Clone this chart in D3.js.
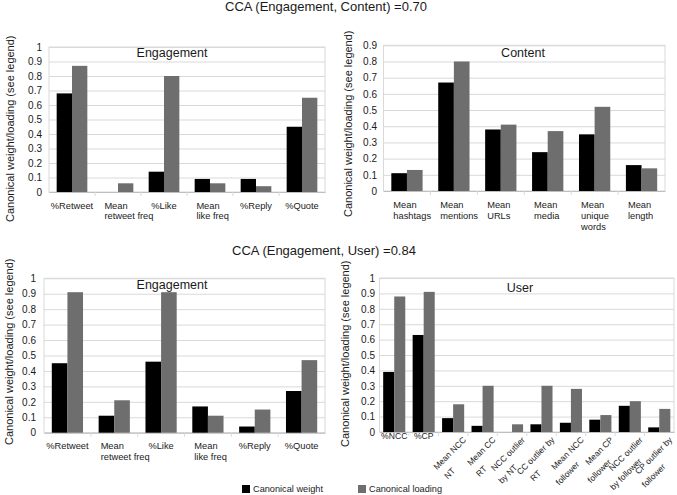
<!DOCTYPE html>
<html>
<head>
<meta charset="utf-8">
<script src="https://cdn.jsdelivr.net/npm/d3@7"></script>
<style>
  body { margin: 0; background: #fff; }
  svg { display: block; font-family: "Liberation Sans", Arial, sans-serif; }
</style>
</head>
<body>
<svg id="chart" width="677" height="495"></svg>
<script>
// ---------------- DATA ----------------
const titleTop = "CCA (Engagement, Content) =0.70";
const titleBottom = "CCA (Engagement, User) =0.84";
const yAxisTitle = "Canonical weight/loading (see legend)";
const seriesNames = ["Canonical weight", "Canonical loading"];

const engagementCats = ["%Retweet", "Mean\nretweet freq", "%Like", "Mean\nlike freq", "%Reply", "%Quote"];
const contentCats = ["Mean\nhashtags", "Mean\nmentions", "Mean\nURLs", "Mean\nmedia", "Mean\nunique\nwords", "Mean\nlength"];
const userCats = ["%NCC", "%CP", "Mean NCC\nNT", "Mean CC\nRT", "NCC outlier\nby NT", "CC outlier by\nRT",
                  "Mean NCC\nfollower", "Mean CP\nfollower", "NCC outlier\nby follower", "CP outlier by\nfollower"];

// Engagement (vs Content)
const engC_weight  = [0.68, 0.00, 0.14, 0.09, 0.09, 0.45];
const engC_loading = [0.87, 0.06, 0.80, 0.06, 0.04, 0.65];
// Content
const content_weight  = [0.11, 0.67, 0.38, 0.24, 0.35, 0.16];
const content_loading = [0.13, 0.80, 0.41, 0.37, 0.52, 0.14];
// Engagement (vs User)
const engU_weight  = [0.45, 0.11, 0.46, 0.17, 0.04, 0.27];
const engU_loading = [0.91, 0.21, 0.91, 0.11, 0.15, 0.47];
// User
const user_weight  = [0.39, 0.63, 0.09, 0.04, 0.00, 0.05, 0.06, 0.08, 0.17, 0.03];
const user_loading = [0.88, 0.91, 0.18, 0.30, 0.05, 0.30, 0.28, 0.11, 0.20, 0.15];

const ticksTo1  = [0, 0.1, 0.2, 0.3, 0.4, 0.5, 0.6, 0.7, 0.8, 0.9, 1];
const ticksTo09 = [0, 0.1, 0.2, 0.3, 0.4, 0.5, 0.6, 0.7, 0.8, 0.9];

// ---------------- STYLE ----------------
const colors = { weight: "#000000", loading: "#6e6e6e" };
const gridColor = "#d9d9d9";
const textColor = "#1a1a1a";

const svg = d3.select("#chart");
svg.append("rect").attr("width", 677).attr("height", 495).attr("fill", "#fff");

// main titles
svg.append("text").attr("x", 326).attr("y", 11).attr("text-anchor", "middle")
  .attr("font-size", 13).attr("fill", textColor).text(titleTop);
svg.append("text").attr("x", 324).attr("y", 255).attr("text-anchor", "middle")
  .attr("font-size", 13).attr("fill", textColor).text(titleBottom);

function drawLines(parent, str, fontSize) {
  const lines = str.split("\n");
  const t = parent.append("text").attr("font-size", fontSize).attr("fill", textColor);
  const spans = lines.map(l => t.append("tspan").text(l));
  const widths = spans.map(s => s.node().getComputedTextLength());
  return { t, spans, widths, maxW: d3.max(widths) };
}

function drawPanel(cfg) {
  const g = svg.append("g");
  const x = d3.scaleBand().domain(cfg.cats).range([cfg.x0, cfg.x1]).paddingInner(0).paddingOuter(0);
  const bw = x.bandwidth();
  const pw = bw * cfg.pair;
  const xs = d3.scaleBand().domain(["weight", "loading"]).range([(bw - pw) / 2, (bw + pw) / 2]);
  const y = d3.scaleLinear().domain([0, cfg.max]).range([cfg.yBot, cfg.yTop]);

  // gridlines
  g.append("g").attr("transform", `translate(${cfg.x0},0)`)
    .call(d3.axisLeft(y).tickValues(cfg.ticks).tickSize(-(cfg.x1 - cfg.x0)).tickFormat(""))
    .call(s => s.select(".domain").remove())
    .call(s => s.selectAll("line").attr("stroke", gridColor).attr("stroke-width", 1));

  // plot border
  g.append("rect").attr("x", cfg.x0).attr("y", y(cfg.max)).attr("width", cfg.x1 - cfg.x0)
    .attr("height", y(0) - y(cfg.max)).attr("fill", "none").attr("stroke", gridColor);

  // y tick labels
  g.append("g").attr("transform", `translate(${cfg.tickRight},0)`)
    .call(d3.axisLeft(y).tickValues(cfg.ticks).tickSize(0).tickPadding(0).tickFormat(d3.format("~g")))
    .call(s => s.select(".domain").remove())
    .call(s => s.selectAll("text").attr("font-size", 10).attr("fill", textColor)
      .attr("font-family", "Liberation Sans, Arial, sans-serif"));

  // category axis line + ticks between categories
  g.append("g").attr("transform", `translate(0,${y(0)})`)
    .call(d3.axisBottom(x).tickSize(0).tickFormat(""))
    .call(s => s.select(".domain").attr("stroke", "#bfbfbf"));
  g.selectAll(".ctick").data(cfg.cats.slice(1)).join("line")
    .attr("x1", d => x(d)).attr("x2", d => x(d))
    .attr("y1", y(0)).attr("y2", y(0) + 4).attr("stroke", gridColor);

  // bars
  const rows = cfg.cats.map((c, i) => ({ c, weight: cfg.weight[i], loading: cfg.loading[i] }));
  ["weight", "loading"].forEach(k => {
    g.selectAll(".bar-" + k).data(rows).join("rect")
      .attr("x", d => x(d.c) + xs(k)).attr("width", xs.bandwidth())
      .attr("y", d => y(d[k])).attr("height", d => y(0) - y(d[k]))
      .attr("fill", colors[k]);
  });

  // panel title
  g.append("text").attr("x", cfg.title[0]).attr("y", cfg.title[1]).attr("text-anchor", "middle")
    .attr("font-size", 12.5).attr("fill", textColor).text(cfg.name);

  // y axis title
  g.append("text").attr("transform", `translate(${cfg.ylab[0]},${cfg.ylab[1]}) rotate(-90)`)
    .attr("text-anchor", "start").attr("font-size", 11).attr("fill", textColor).text(yAxisTitle);

  // category labels
  cfg.cats.forEach(c => {
    const cx = x(c) + bw / 2;
    const rotate = cfg.rotate && c.includes("\n");
    if (!rotate) {
      const lg = g.append("g").attr("transform", `translate(${cx},${cfg.labelY})`);
      const { spans, widths } = drawLines(lg, c, cfg.labelSize);
      const multi = spans.length > 1;
      const startX = multi ? -widths[0] / 2 - 2 : -widths[0] / 2;
      spans.forEach((s, i) => s.attr("x", startX).attr("dy", i === 0 ? 0 : "1.15em"));
    } else {
      const lg = g.append("g").attr("transform", `translate(${cx + 9},${cfg.rotY}) rotate(-45)`);
      const { t, spans, widths } = drawLines(lg, c, cfg.rotSize);
      t.attr("text-anchor", "middle");
      const D = cfg.rotStep * Math.SQRT1_2;
      spans.forEach((s, i) => s
        .attr("x", -widths[0] / 2 - D * i)
        .attr("y", 0.75 * cfg.rotSize + D * i));
    }
  });
}

drawPanel({ name: "Engagement", cats: engagementCats, weight: engC_weight, loading: engC_loading,
  x0: 49, x1: 325, yTop: 47, yBot: 192, max: 1, ticks: ticksTo1, tickRight: 42,
  ylab: [14, 222], labelY: 208.5, labelSize: 9.3, title: [172, 57], pair: 2 / 3 });
drawPanel({ name: "Content", cats: contentCats, weight: content_weight, loading: content_loading,
  x0: 383.5, x1: 665, yTop: 45.3, yBot: 191, max: 0.9, ticks: ticksTo09, tickRight: 377,
  ylab: [352, 217], labelY: 208.3, labelSize: 9.3, title: [523, 57], pair: 2 / 3 });
drawPanel({ name: "Engagement", cats: engagementCats, weight: engU_weight, loading: engU_loading,
  x0: 44, x1: 325, yTop: 278.3, yBot: 432.7, max: 1, ticks: ticksTo1, tickRight: 36,
  ylab: [13, 445], labelY: 449, labelSize: 9.3, title: [172, 289], pair: 2 / 3 });
drawPanel({ name: "User", cats: userCats, weight: user_weight, loading: user_loading,
  x0: 379.5, x1: 674, yTop: 278, yBot: 432, max: 1, ticks: ticksTo1, tickRight: 375,
  ylab: [349, 447], labelY: 438.5, labelSize: 8.6, rotSize: 8.5, rotY: 436, rotStep: 20, rotate: true,
  title: [520, 292], pair: 0.75 });

// legend
const legendItems = [
  { name: seriesNames[0], color: colors.weight, x: 242 },
  { name: seriesNames[1], color: colors.loading, x: 358 }
];
const lg = svg.append("g");
lg.selectAll("rect").data(legendItems).join("rect")
  .attr("x", d => d.x).attr("y", 485).attr("width", 8).attr("height", 8).attr("fill", d => d.color);
lg.selectAll("text").data(legendItems).join("text")
  .attr("x", d => d.x + 11).attr("y", 492).attr("font-size", 9.2).attr("fill", textColor)
  .text(d => d.name);
</script>
</body>
</html>
